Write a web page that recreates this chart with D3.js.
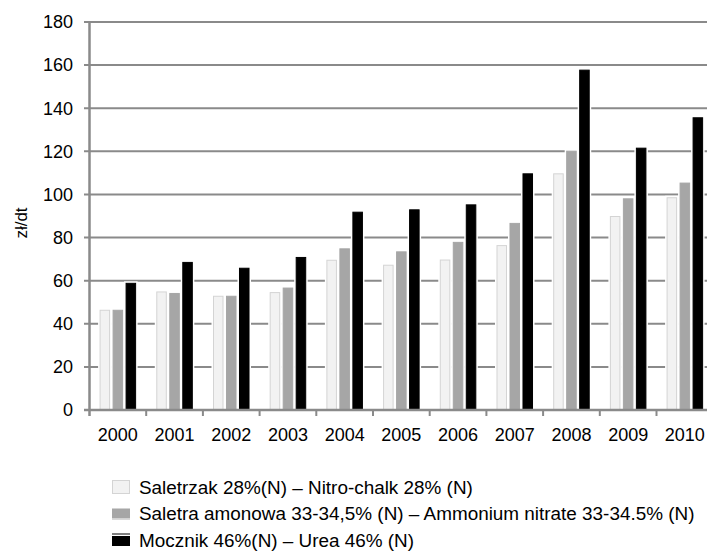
<!DOCTYPE html>
<html><head><meta charset="utf-8">
<script src="https://cdn.jsdelivr.net/npm/d3@7"></script>
<style>body{margin:0;background:#fff}svg{display:block;font-family:"Liberation Sans",Arial,sans-serif}</style>
</head><body>
<svg id="c" width="707" height="551"></svg>
<script>
const years = ["2000","2001","2002","2003","2004","2005","2006","2007","2008","2009","2010"];
const saletrzak = [46.5, 55, 53, 54.7, 69.7, 67.4, 69.8, 76.5, 109.8, 90, 98.7];
const saletra = [46.5, 54.3, 53, 56.8, 75, 73.6, 78, 86.8, 120.3, 98.2, 105.5];
const mocznik = [59, 68.7, 66, 71, 92, 93.1, 95.4, 109.8, 157.9, 121.7, 135.8];
const seriesNames = ["Saletrzak 28%(N) – Nitro-chalk 28% (N)","Saletra amonowa 33-34,5% (N) – Ammonium nitrate 33-34.5% (N)","Mocznik 46%(N) – Urea 46% (N)"];
const yTicks = [0,20,40,60,80,100,120,140,160,180];
const yTitle = "zł/dt";

const fills = ["#f2f2f2","#a6a6a6","#000000"];
const strokes = ["#d4d4d4","#a6a6a6","#000000"];
const series = [saletrzak, saletra, mocznik];
const svg = d3.select("#c");
const fs = 18;
const lfs = 18.9;
const x0 = d3.scaleBand().domain(years).range([89.5, 89.5 + 56.7*11]).padding(0);
const x1 = d3.scaleBand().domain([0,1,2]).range([0,39]).paddingInner(0.19).paddingOuter(0.095);
const y = d3.scaleLinear().domain([0,180]).range([410,22]);
const gridColor = "#8a8a8a";

// gridlines
svg.append("g").selectAll("line").data(yTicks.filter(d=>d>0)).join("line")
  .attr("x1",84).attr("x2",707).attr("y1",d=>y(d)).attr("y2",d=>y(d))
  .attr("stroke",gridColor).attr("stroke-width",2);

// bars
const g = svg.append("g").selectAll("g").data(years).join("g")
  .attr("transform",d=>`translate(${x0(d)+x0.bandwidth()/2-19.5},0)`);
[0,1,2].forEach(s=>{
  g.append("rect").attr("x",x1(s)-1.5).attr("width",x1.bandwidth()+3)
    .attr("y",(d,i)=>y(series[s][i])-1.5).attr("height",(d,i)=>y(0)-y(series[s][i])+1.5).attr("fill","#fff");
});
[0,1,2].forEach(s=>{
  g.append("rect").attr("x",x1(s)+0.5).attr("width",x1.bandwidth()-1)
    .attr("y",(d,i)=>y(series[s][i])+0.5).attr("height",(d,i)=>y(0)-y(series[s][i])-0.5)
    .attr("fill",fills[s]).attr("stroke",strokes[s]).attr("stroke-width",1);
});

// axes lines
svg.append("line").attr("x1",89.5).attr("x2",89.5).attr("y1",y(180)-1).attr("y2",416).attr("stroke",gridColor).attr("stroke-width",2.5);
svg.append("line").attr("x1",84).attr("x2",707).attr("y1",y(0)).attr("y2",y(0)).attr("stroke",gridColor).attr("stroke-width",2.5);
svg.append("g").selectAll("line").data(years.slice(1)).join("line")
  .attr("x1",d=>x0(d)).attr("x2",d=>x0(d)).attr("y1",410).attr("y2",416)
  .attr("stroke",gridColor).attr("stroke-width",2);

// y labels
svg.append("g").selectAll("text").data(yTicks).join("text")
  .attr("x",73).attr("y",d=>y(d)).attr("dy","0.35em").attr("text-anchor","end")
  .attr("font-size",fs).attr("fill","#000").text(d=>d);
// x labels
svg.append("g").selectAll("text").data(years).join("text")
  .attr("x",d=>x0(d)+x0.bandwidth()/2).attr("y",440.5).attr("text-anchor","middle")
  .attr("font-size",fs).attr("fill","#000").text(d=>d);
// y title
svg.append("text").attr("transform","translate(27,223) rotate(-90)").attr("text-anchor","middle")
  .attr("font-size",17).attr("fill","#000").text(yTitle);

// legend
const ly = [487, 513.5, 540];
const lg = svg.append("g");
seriesNames.forEach((n,i)=>{
  const cy = ly[i];
  if(i===0){
    lg.append("rect").attr("x",112.5).attr("y",cy-6.5).attr("width",17).attr("height",13).attr("fill",fills[0]).attr("stroke","#d4d4d4");
  } else if(i===1){
    lg.append("rect").attr("x",112).attr("y",cy-5).attr("width",18).attr("height",10).attr("fill",fills[1]);
    lg.append("line").attr("x1",112).attr("x2",130).attr("y1",cy+6).attr("y2",cy+6).attr("stroke","#d9d9d9");
  } else {
    lg.append("line").attr("x1",112).attr("x2",130).attr("y1",cy-6).attr("y2",cy-6).attr("stroke","#000");
    lg.append("rect").attr("x",112).attr("y",cy-4).attr("width",18).attr("height",10).attr("fill","#000");
  }
  lg.append("text").attr("x",139).attr("y",cy).attr("dy","0.35em").attr("font-size",lfs).attr("fill","#000").text(n);
});
</script>
</body></html>
